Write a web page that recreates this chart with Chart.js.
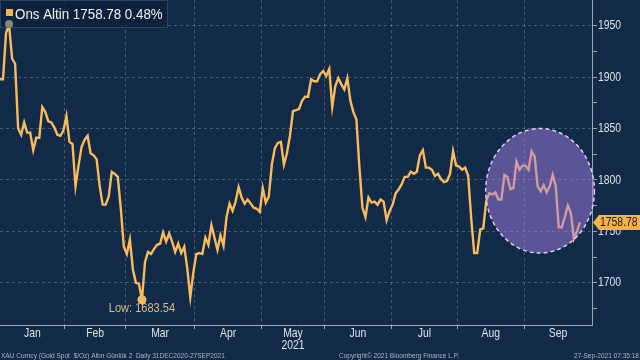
<!DOCTYPE html>
<html>
<head>
<meta charset="utf-8">
<script src="https://cdn.jsdelivr.net/npm/chart.js@4.4.0/dist/chart.umd.min.js"></script>
<style>
  html, body { margin: 0; background: #102a48; }
  #wrap { width: 640px; height: 360px; }
</style>
</head>
<body>
<div id="wrap"><canvas id="goldChart"></canvas></div>
<script>
// daily closes, XAU spot (first two points: 31 Dec + 1 Jan)
const jan = [1898, 1898, 1943, 1950.81, 1918, 1913, 1850, 1844, 1856, 1846, 1846, 1829, 1841, 1841, 1871, 1866, 1857, 1856, 1851, 1844, 1843, 1848];
const feb = [1862, 1837, 1835, 1794, 1814, 1832, 1839, 1843, 1826, 1824, 1820, 1794, 1776, 1776, 1784, 1808, 1806, 1803, 1772, 1735];
const mar = [1728, 1742, 1713, 1700, 1699, 1683.54, 1720, 1730, 1728, 1733, 1737, 1738, 1749, 1740, 1748, 1740, 1730, 1738, 1729, 1735, 1714, 1686, 1710];
const apr = [1728, 1729, 1728, 1744, 1737, 1756, 1744, 1732, 1746, 1736, 1764, 1777, 1770, 1779, 1793, 1783, 1777, 1781, 1777, 1773, 1772, 1769];
const may = [1792, 1778, 1784, 1815, 1831, 1836, 1837, 1815, 1826, 1843, 1867, 1868, 1869, 1877, 1881, 1881, 1898, 1896, 1896, 1903, 1906];
const jun = [1901, 1908, 1871, 1891, 1899, 1893, 1888, 1899, 1877, 1866, 1859, 1812, 1773, 1764, 1783, 1778, 1779, 1776, 1781, 1779, 1761, 1770];
const jul = [1776, 1787, 1791, 1796, 1803, 1803, 1808, 1806, 1808, 1824, 1829, 1812, 1812, 1810, 1804, 1806, 1801, 1798, 1799, 1806, 1828, 1814];
const aug = [1813, 1810, 1812, 1804, 1763, 1729, 1729, 1752, 1753, 1780, 1787, 1786, 1788, 1781, 1781, 1805, 1803, 1791, 1792, 1818, 1810, 1814];
const sep = [1814, 1810, 1828, 1823, 1794, 1789, 1795, 1788, 1794, 1805, 1794, 1754, 1754, 1764, 1775, 1768, 1743, 1750, 1758.78];

const monthNames = ["Jan", "Feb", "Mar", "Apr", ["May", "2021"], "Jun", "Jul", "Aug", "Sep"];
const monthStart = [0, 22, 42, 65, 87, 108, 130, 152, 174]; // index of first session of each month
const xEnd = 196;
const yTicks = [1675, 1700, 1725, 1750, 1775, 1800, 1825, 1850, 1875, 1900, 1925, 1950];
const yMin = 1659, yMax = 1975;

const seriesName = "Ons Altin";
const changePct = 0.48;
// highlighted zone (index range / price range)
const zone = { from: 160.8, to: 196.8, lo: 1729, hi: 1850 };

const FONT = "'Liberation Sans', Arial, sans-serif";
const GRID = "rgba(150,170,195,0.38)";
const AXIS = "#9aa6b4";
const GOLD = "#f9bb5c";
const LABEL = "#dde2e8";

const prices = [...jan, ...feb, ...mar, ...apr, ...may, ...jun, ...jul, ...aug, ...sep];
const points = prices.map((v, i) => ({ x: i, y: v }));

// month boundaries (grid) and month centres (labels)
const boundaries = monthStart.slice(1).map((s) => s - 0.5);
const labelAt = new Map();
monthStart.forEach((s, k) => {
  const left = k === 0 ? 0 : s - 0.5;
  const right = k < monthStart.length - 1 ? monthStart[k + 1] - 0.5 : xEnd;
  labelAt.set((left + right) / 2, monthNames[k]);
});
const isBoundary = (v) => boundaries.includes(v);

// the Bloomberg font is narrow, so squeeze text horizontally
function narrowText(ctx, text, x, y, sx, align) {
  ctx.save();
  ctx.translate(x, y);
  ctx.scale(sx, 1);
  ctx.textAlign = align || "left";
  ctx.fillText(text, 0, 0);
  ctx.restore();
}

const deco = {
  id: "deco",
  afterDatasetsDraw(chart) {
    const { ctx, scales: { x, y } } = chart;
    ctx.save();

    // highlight ellipse
    const x1 = x.getPixelForValue(zone.from), x2 = x.getPixelForValue(zone.to);
    const y1 = y.getPixelForValue(zone.hi), y2 = y.getPixelForValue(zone.lo);
    ctx.beginPath();
    ctx.ellipse((x1 + x2) / 2, (y1 + y2) / 2, (x2 - x1) / 2, (y2 - y1) / 2, 0, 0, Math.PI * 2);
    ctx.fillStyle = "rgba(165,125,230,0.5)";
    ctx.fill();
    ctx.setLineDash([4, 3]);
    ctx.lineWidth = 1.5;
    ctx.strokeStyle = "#dccff8";
    ctx.stroke();
    ctx.setLineDash([]);

    // low marker
    const lowVal = Math.min(...prices);
    const lowIdx = prices.indexOf(lowVal);
    const lx = x.getPixelForValue(lowIdx), ly = y.getPixelForValue(lowVal);
    ctx.beginPath();
    ctx.arc(lx, ly, 4.5, 0, Math.PI * 2);
    ctx.fillStyle = GOLD;
    ctx.fill();
    ctx.font = "12px " + FONT;
    ctx.fillStyle = "#d9ba8c";
    ctx.textBaseline = "middle";
    narrowText(ctx, "Low: " + lowVal.toFixed(2), lx, ly + 9, 0.92, "center");

    // high marker text (mostly hidden behind the legend box)
    const hiVal = Math.max(...prices);
    const hiIdx = prices.indexOf(hiVal);
    const hx = x.getPixelForValue(hiIdx), hy = y.getPixelForValue(hiVal);
    ctx.font = "11px " + FONT;
    ctx.fillStyle = "#7f8b74";
    narrowText(ctx, "Hi: " + hiVal.toFixed(2), hx + 2, hy - 7, 0.9, "left");

    // legend box
    ctx.fillStyle = "rgba(12,32,56,0.82)";
    ctx.fillRect(0, 0, 168, 28);
    ctx.strokeStyle = "#2a4461";
    ctx.lineWidth = 1;
    ctx.strokeRect(0.5, 0.5, 167, 27);
    ctx.fillStyle = "#f5b84f";
    ctx.fillRect(6, 9, 7, 7);
    ctx.font = "15px " + FONT;
    ctx.fillStyle = "#eef1f4";
    const last = prices[prices.length - 1];
    narrowText(ctx, seriesName + " " + last.toFixed(2) + " " + changePct.toFixed(2) + "%", 15, 15, 0.89, "left");

    // high dot sits on top of the box
    ctx.beginPath();
    ctx.arc(hx, hy - 1, 4, 0, Math.PI * 2);
    ctx.fillStyle = "#7f8b74";
    ctx.fill();
    ctx.restore();
  },
  afterDraw(chart) {
    const { ctx, chartArea, scales: { x, y } } = chart;
    ctx.save();
    ctx.textBaseline = "middle";

    // axis labels
    ctx.font = "13px " + FONT;
    ctx.fillStyle = LABEL;
    yTicks.filter((v) => v % 50 === 0).forEach((v) => {
      narrowText(ctx, String(v), chartArea.right + 6, y.getPixelForValue(v), 0.8, "left");
    });
    labelAt.forEach((name, v) => {
      const px = x.getPixelForValue(v);
      const lines = Array.isArray(name) ? name : [name];
      lines.forEach((t, k) => narrowText(ctx, t, px, chartArea.bottom + 8 + k * 12, 0.8, "center"));
    });

    // last value tag
    const last = prices[prices.length - 1];
    const ty = y.getPixelForValue(last);
    const ax = chartArea.right + 1;
    ctx.beginPath();
    ctx.moveTo(ax, ty);
    ctx.lineTo(ax + 6, ty - 7.5);
    ctx.lineTo(640, ty - 7.5);
    ctx.lineTo(640, ty + 7.5);
    ctx.lineTo(ax + 6, ty + 7.5);
    ctx.closePath();
    ctx.fillStyle = "#f4b24e";
    ctx.fill();
    ctx.fillStyle = "#1b1b1b";
    narrowText(ctx, last.toFixed(2), ax + 7, ty + 0.5, 0.8, "left");

    // footer
    ctx.font = "7.5px " + FONT;
    ctx.fillStyle = "#aeb6c0";
    ctx.textBaseline = "alphabetic";
    narrowText(ctx, "XAU Curncy (Gold Spot  $/Oz) Altın Günlük 2  Daily 31DEC2020-27SEP2021", 1, 358, 0.87, "left");
    narrowText(ctx, "Copyright\u00a9 2021 Bloomberg Finance L.P.", 399, 358, 0.87, "center");
    narrowText(ctx, "27-Sep-2021 07:35:18", 639, 358, 0.87, "right");
    ctx.restore();
  },
};

new Chart(document.getElementById("goldChart"), {
  type: "line",
  data: {
    datasets: [
      {
        label: seriesName,
        data: points,
        borderColor: GOLD,
        borderWidth: 2.4,
        pointRadius: 0,
        tension: 0,
      },
    ],
  },
  options: {
    responsive: true,
    maintainAspectRatio: false,
    animation: false,
    parsing: false,
    layout: { padding: 0 },
    plugins: {
      legend: { display: false },
      tooltip: { enabled: false },
    },
    scales: {
      x: {
        type: "linear",
        min: 0,
        max: xEnd,
        afterBuildTicks: (s) => {
          s.ticks = [...boundaries, ...labelAt.keys()]
            .sort((a, b) => a - b)
            .map((v) => ({ value: v }));
        },
        afterFit: (s) => {
          s.height = 35;
        },
        ticks: { display: false, autoSkip: false },
        grid: {
          color: (c) => (c.tick && isBoundary(c.tick.value) ? GRID : "transparent"),
          tickColor: (c) => (c.tick && isBoundary(c.tick.value) ? AXIS : "transparent"),
          tickLength: 4,
        },
        border: { color: AXIS, width: 1, dash: [3, 3] },
      },
      y: {
        position: "right",
        min: yMin,
        max: yMax,
        afterBuildTicks: (s) => {
          s.ticks = yTicks.map((v) => ({ value: v }));
        },
        afterFit: (s) => {
          s.width = 48;
        },
        ticks: { display: false, autoSkip: false },
        grid: {
          color: (c) => (c.tick && c.tick.value % 50 === 0 ? GRID : "transparent"),
          tickColor: AXIS,
          tickLength: 5,
        },
        border: { color: AXIS, width: 1, dash: [3, 3] },
      },
    },
  },
  plugins: [deco],
});
</script>
</body>
</html>
